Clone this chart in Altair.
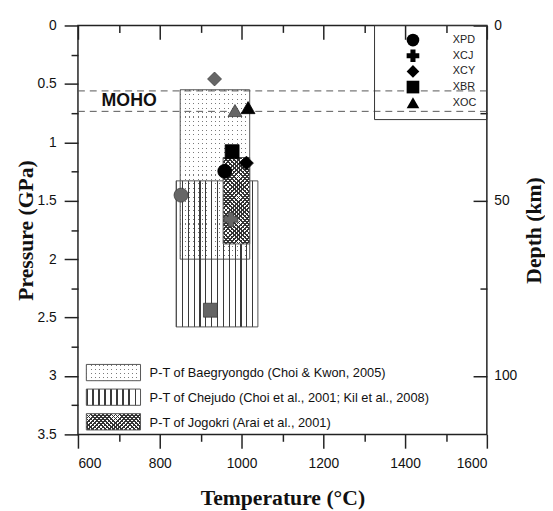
import math
import altair as alt
import pandas as pd

# ---------------- values ----------------
T_RANGE = [600, 1600]
P_RANGE = [0, 3.5]
x_major = [600, 800, 1000, 1200, 1400, 1600]
x_minor = [700, 900, 1100, 1300, 1500]
p_major = [0, 0.5, 1, 1.5, 2, 2.5, 3, 3.5]
p_minor = [0.25, 0.75, 1.25, 1.75, 2.25, 2.75, 3.25]
depth_major_km = [0, 50, 100]
depth_minor_km = [25, 75]
KM_PER_GPA = 100 / 3

region_names = ["Baegryongdo", "Chejudo", "Jogokri"]
region_tmin = [850, 840, 955]
region_tmax = [1020, 1040, 1020]
region_pmin = [0.55, 1.33, 1.13]
region_pmax = [2.00, 2.58, 1.87]
region_labels = [
    "P-T of Baegryongdo (Choi & Kwon, 2005)",
    "P-T of Chejudo (Choi et al., 2001; Kil et al., 2008)",
    "P-T of Jogokri (Arai et al., 2001)",
]

moho_p = [0.56, 0.735]
moho_label = "MOHO"

sample_names = ["XPD", "XCJ", "XCY", "XBR", "XOC"]
sample_shapes = ["circle", "cross", "diamond", "square", "triangle-up"]

pt_sample = ["XPD", "XPD", "XCJ", "XCY", "XCY", "XBR", "XBR", "XOC", "XOC"]
pt_tone = ["black", "gray", "gray", "gray", "black", "black", "gray", "gray", "black"]
pt_t = [959, 852, 974, 934, 1012, 977, 924, 984, 1016]
pt_p = [1.248, 1.452, 1.66, 0.458, 1.178, 1.08, 2.437, 0.728, 0.703]

# ---------------- layout / style ----------------
PLOT_W = 415
PLOT_H = 415
SANS = "Liberation Sans"
SERIF = "Liberation Serif"
INK = "#222222"
OUTLINE = "#555555"
CLEAR = "rgba(255,255,255,0)"
px_per_T = PLOT_W / (T_RANGE[1] - T_RANGE[0])
px_per_P = PLOT_H / (P_RANGE[1] - P_RANGE[0])

xs = alt.Scale(domain=T_RANGE, nice=False, zero=False)
ys = alt.Scale(domain=P_RANGE, nice=False, zero=False, reverse=True)

regions_df = pd.DataFrame({
    "name": region_names, "tmin": region_tmin, "tmax": region_tmax,
    "pmin": region_pmin, "pmax": region_pmax,
})
points_df = pd.DataFrame({"sample": pt_sample, "tone": pt_tone, "T": pt_t, "P": pt_p})
moho_df = pd.DataFrame({"P": moho_p})


def stripes(n, duty, ink, paper, x1=0.0, y1=0.0, x2=1.0, y2=0.0):
    stops = []
    for i in range(n):
        a = round(i / n, 5)
        b = round((i + duty) / n, 5)
        c = round((i + 1) / n, 5)
        stops += [
            alt.GradientStop(offset=a, color=ink),
            alt.GradientStop(offset=b, color=ink),
            alt.GradientStop(offset=b, color=paper),
            alt.GradientStop(offset=c, color=paper),
        ]
    return alt.LinearGradient(gradient="linear", stops=stops, x1=x1, y1=y1, x2=x2, y2=y2)


def diag(w, h, period, duty, ink, paper, flip=False):
    s = (w + h) / (w * w + h * h)
    n = max(1, round((w + h) / math.sqrt(2) / period))
    if flip:
        return stripes(n, duty, ink, paper, 1.0, 0.0, round(1 - s * w, 5), round(s * h, 5))
    return stripes(n, duty, ink, paper, 0.0, 0.0, round(s * w, 5), round(s * h, 5))


def dots(w, h, step=4.5, dot=1.1):
    cols = max(1, round(w / step))
    rows = max(1, round(h / step))
    base = stripes(cols, dot / (w / cols), "#7a7a7a", "white")
    cover = stripes(rows, dot / (h / rows), CLEAR, "white", 0.0, 0.0, 0.0, 1.0)
    return base, cover


def vlines(w, step=6.0, line=1.2):
    n = max(1, round(w / step))
    return stripes(n, line / (w / n), "#3a3a3a", CLEAR)


def hatch(w, h, period=3.0, line=1.3):
    a = diag(w, h, period, line / period, "#333333", "white")
    b = diag(w, h, period, line / period, "#333333", CLEAR, flip=True)
    return a, b


def region_size(i):
    return ((region_tmax[i] - region_tmin[i]) * px_per_T,
            (region_pmax[i] - region_pmin[i]) * px_per_P)


AXC = dict(domain=False, grid=False, tickColor=INK, tickWidth=1.5)
ax_x_bottom = alt.Axis(orient="bottom", values=x_major, tickSize=14, format="d",
                       labelFont=SANS, labelFontSize=14, labelColor="#111111", labelPadding=9,
                       title="Temperature (°C)", titleFont=SERIF, titleFontSize=22,
                       titleFontWeight="bold", titleColor="#111111", titleY=71,
                       titleBaseline="alphabetic", **AXC)
ax_x_bottom_minor = alt.Axis(orient="bottom", values=x_minor, tickSize=7, labels=False,
                             title=None, **AXC)
ax_x_top = alt.Axis(orient="top", offset=-14, values=x_major, tickSize=14, labels=False,
                    title=None, **AXC)
ax_x_top_minor = alt.Axis(orient="top", offset=-7, values=x_minor, tickSize=7, labels=False,
                          title=None, **AXC)
ax_y_left = alt.Axis(orient="left", values=p_major, tickSize=14, labelExpr="'' + datum.value",
                     labelFont=SANS, labelFontSize=14, labelColor="#111111", labelPadding=8,
                     title="Pressure (GPa)", titleFont=SERIF, titleFontSize=22,
                     titleFontWeight="bold", titleColor="#111111", titleAngle=270,
                     titleX=-46, titleY=PLOT_H / 2, titleAlign="center",
                     titleBaseline="alphabetic", **AXC)
ax_y_left_minor = alt.Axis(orient="left", values=p_minor, tickSize=7, labels=False,
                           title=None, **AXC)
ax_y_right = alt.Axis(orient="right", offset=-14,
                      values=[d / KM_PER_GPA for d in depth_major_km], tickSize=14,
                      labelExpr=f"format(datum.value * {KM_PER_GPA}, 'd')",
                      labelFont=SANS, labelFontSize=14, labelColor="#111111", labelPadding=7,
                      title="Depth (km)", titleFont=SERIF, titleFontSize=22,
                      titleFontWeight="bold", titleColor="#111111", titleAngle=270,
                      titleX=68, titleY=PLOT_H / 2, titleAlign="center",
                      titleBaseline="alphabetic", **AXC)
ax_y_right_minor = alt.Axis(orient="right", offset=-7,
                            values=[d / KM_PER_GPA for d in depth_minor_km], tickSize=7,
                            labels=False, title=None, **AXC)


def region_rect(i, fill, stroke=False, xaxis=None, yaxis=None):
    kw = {"fill": fill}
    if stroke:
        kw.update(stroke=OUTLINE, strokeWidth=1)
    return (alt.Chart(regions_df)
            .transform_filter(alt.datum.name == region_names[i])
            .mark_rect(**kw)
            .encode(x=alt.X("tmin:Q", scale=xs, axis=xaxis), x2="tmax:Q",
                    y=alt.Y("pmin:Q", scale=ys, axis=yaxis), y2="pmax:Q"))


layers = []
# Baegryongdo (dots)
bw, bh = region_size(0)
b_base, b_cover = dots(bw, bh)
layers.append(region_rect(0, b_base, xaxis=ax_x_bottom, yaxis=ax_y_left))
layers.append(region_rect(0, b_cover, stroke=True, xaxis=ax_x_bottom_minor, yaxis=ax_y_left_minor))
# Chejudo (vertical lines)
cw, ch = region_size(1)
layers.append(region_rect(1, vlines(cw), stroke=True, xaxis=ax_x_top, yaxis=ax_y_right))
# Jogokri (cross hatch)
jw, jh = region_size(2)
j_a, j_b = hatch(jw, jh)
layers.append(region_rect(2, j_a, xaxis=ax_x_top_minor, yaxis=ax_y_right_minor))
layers.append(region_rect(2, j_b, stroke=True))

# MOHO dashed lines and label
layers.append(alt.Chart(moho_df).mark_rule(color=OUTLINE, strokeWidth=1, strokeDash=[7, 5])
              .encode(y=alt.Y("P:Q", scale=ys, axis=None)))
layers.append(alt.Chart(alt.Data(values=[{"label": moho_label, "P": sum(moho_p) / 2}]))
              .mark_text(align="left", baseline="middle", font=SANS, fontSize=18,
                         fontWeight="bold", color="#111111")
              .encode(x=alt.value(24), y=alt.Y("P:Q", scale=ys, axis=None), text="label:N"))

# marker legend frame
layers.append(alt.Chart(alt.Data(values=[{"box": 1}]))
              .mark_rect(filled=False, stroke="#333333", strokeWidth=1)
              .encode(x=alt.value(301), x2=alt.value(PLOT_W), y=alt.value(0), y2=alt.value(95.5)))

# samples
layers.append(
    alt.Chart(points_df).mark_point(filled=True, opacity=1, size=200, strokeWidth=0.8)
    .encode(
        x=alt.X("T:Q", scale=xs, axis=None),
        y=alt.Y("P:Q", scale=ys, axis=None),
        shape=alt.Shape("sample:N", scale=alt.Scale(domain=sample_names, range=sample_shapes),
                        legend=alt.Legend(orient="none", legendX=333.5, legendY=8.3, title=None,
                                          padding=0, labelFont=SANS, labelFontSize=11,
                                          labelColor="#222222", labelOffset=34, symbolSize=165,
                                          symbolFillColor="#000000", symbolStrokeColor="#000000",
                                          symbolStrokeWidth=0, rowPadding=2.9, symbolOpacity=1)),
        color=alt.Color("tone:N", scale=alt.Scale(domain=["black", "gray"],
                                                  range=["#000000", "#666666"]), legend=None),
        stroke=alt.Stroke("tone:N", scale=alt.Scale(domain=["black", "gray"],
                                                    range=["#000000", "#3c3c3c"]), legend=None),
    )
)

# pattern legend (bottom left)
SW_X0, SW_X1 = 8.5, 63.5
SW_TOP0, SW_STEP, SW_H = 344, 25, 16.5
TXT_X = 72.7
sw_w = SW_X1 - SW_X0


def swatch(i, fill, stroke=False):
    top = SW_TOP0 + i * SW_STEP
    kw = {"fill": fill}
    if stroke:
        kw.update(stroke=OUTLINE, strokeWidth=1)
    return (alt.Chart(alt.Data(values=[{"row": i}])).mark_rect(**kw)
            .encode(x=alt.value(SW_X0), x2=alt.value(SW_X1),
                    y=alt.value(top), y2=alt.value(top + SW_H)))


s_base, s_cover = dots(sw_w, SW_H, step=4.2)
layers.append(swatch(0, s_base))
layers.append(swatch(0, s_cover, stroke=True))
layers.append(swatch(1, "white"))
layers.append(swatch(1, vlines(sw_w), stroke=True))
h_a, h_b = hatch(sw_w, SW_H)
layers.append(swatch(2, h_a))
layers.append(swatch(2, h_b, stroke=True))
for i, lab in enumerate(region_labels):
    top = SW_TOP0 + i * SW_STEP
    layers.append(alt.Chart(alt.Data(values=[{"label": lab}]))
                  .mark_text(align="left", baseline="middle", font=SANS, fontSize=13,
                             color="#111111")
                  .encode(x=alt.value(TXT_X), y=alt.value(top + SW_H / 2 + 1), text="label:N"))

chart = (
    alt.layer(*layers)
    .resolve_axis(x="independent", y="independent")
    .properties(width=PLOT_W, height=PLOT_H,
                autosize=alt.AutoSizeParams(type="none"),
                padding={"left": 71, "top": 14, "right": 59, "bottom": 74},
                background="white")
    .configure_view(stroke=INK, strokeWidth=1.5)
)

chart.save("out.html", embed_options={"renderer": "svg", "actions": False})
